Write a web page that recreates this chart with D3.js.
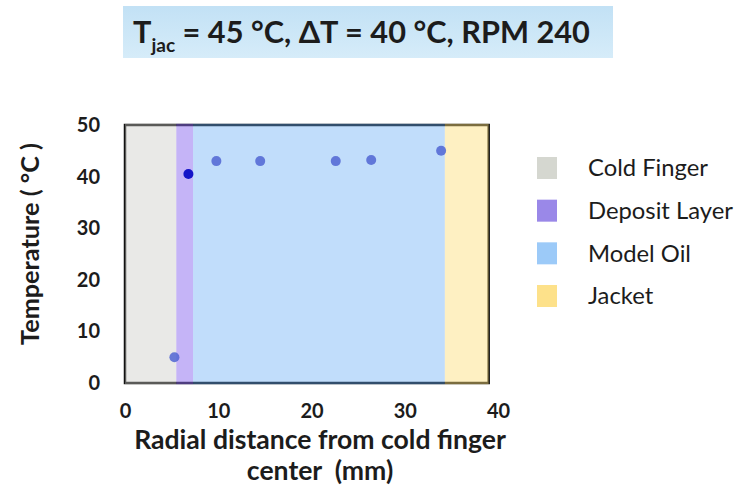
<!DOCTYPE html>
<html>
<head>
<meta charset="utf-8">
<script src="https://cdn.jsdelivr.net/npm/d3@7"></script>
<style>
  body { margin: 0; background: #fff; }
  text { font-family: Lato, "Open Sans", sans-serif; fill: #1c1c1c; }
</style>
</head>
<body>
<svg id="chart"></svg>
<script>
// data
const xTicks = [0, 10, 20, 30, 40];
const yTicks = [0, 10, 20, 30, 40, 50];
const radius = [5.3, 6.8, 9.8, 14.5, 22.6, 26.4, 33.9];        // mm
const temperature = [5.0, 40.5, 43.0, 43.0, 43.0, 43.2, 45.0]; // °C
const zoneNames = ["Cold Finger", "Deposit Layer", "Model Oil", "Jacket"];
const zoneStart = [0, 5.5, 7.3, 34.3];
const zoneEnd = [5.5, 7.3, 34.3, 39];

const W = 738, H = 488;
const svg = d3.select("#chart").attr("width", W).attr("height", H);

const x = d3.scaleLinear().domain([0, 40]).range([125, 498]);
const y = d3.scaleLinear().domain([0, 50]).range([383, 125]);

// scale a text's font so that it spans a given width
function fit(sel, w) {
    const len = sel.node().getComputedTextLength();
    const fs = parseFloat(sel.attr("font-size"));
    sel.attr("font-size", fs * w / len);
    return fs * w / len;
}

// title box
const grad = svg.append("defs").append("linearGradient")
    .attr("id", "tg").attr("x1", 0).attr("y1", 0).attr("x2", 0).attr("y2", 1);
grad.append("stop").attr("offset", "0%").attr("stop-color", "#c2e1f5");
grad.append("stop").attr("offset", "100%").attr("stop-color", "#d6ecf9");
svg.append("rect")
    .attr("x", 123).attr("y", 6).attr("width", 490).attr("height", 52)
    .attr("fill", "url(#tg)");
const title = svg.append("text")
    .attr("x", 133).attr("y", 43)
    .attr("font-size", 28).attr("font-weight", 700);
title.append("tspan").text("T");
title.append("tspan").attr("font-size", "0.62em").attr("dy", "0.45em").text("jac");
title.append("tspan").attr("dy", "-0.28em").text(" = 45 °C, ΔT = 40 °C, RPM 240");
fit(title, 457);

// plot frame
svg.append("rect")
    .attr("x", x(0)).attr("y", y(50))
    .attr("width", x(39) - x(0)).attr("height", y(0) - y(50))
    .attr("fill", "#fff").attr("stroke", "#111").attr("stroke-width", 2.5);

// zones
const zoneFill = ["rgba(200,200,196,0.4)", "rgba(140,105,240,0.5)", "rgba(100,170,245,0.4)", "rgba(252,222,120,0.45)"];
svg.selectAll(".zone")
    .data(zoneNames)
    .enter()
    .append("rect")
    .attr("class", "zone")
    .attr("x", (d, i) => x(zoneStart[i]))
    .attr("width", (d, i) => x(zoneEnd[i]) - x(zoneStart[i]))
    .attr("y", y(50) - 1.25)
    .attr("height", y(0) - y(50) + 2.5)
    .attr("fill", (d, i) => zoneFill[i]);

// axes
const xAxis = svg.append("g")
    .attr("transform", "translate(0," + y(0) + ")")
    .call(d3.axisBottom(x).tickValues(xTicks).tickSize(0).tickPadding(21));
xAxis.select(".domain").remove();
xAxis.selectAll("text")
    .attr("font-size", 20).attr("font-weight", 700)
    .attr("font-family", "Lato, sans-serif").attr("fill", "#1c1c1c");

const yAxis = svg.append("g")
    .attr("transform", "translate(" + x(0) + ",0)")
    .call(d3.axisLeft(y).tickValues(yTicks).tickSize(0).tickPadding(25));
yAxis.select(".domain").remove();
yAxis.selectAll("text")
    .attr("font-size", 20).attr("font-weight", 700)
    .attr("font-family", "Lato, sans-serif").attr("fill", "#1c1c1c");

// points
svg.selectAll(".pt")
    .data(radius)
    .enter()
    .append("circle")
    .attr("class", "pt")
    .attr("cx", d => x(d))
    .attr("cy", (d, i) => y(temperature[i]))
    .attr("r", 5)
    .attr("fill", (d, i) => i === 1 ? "#1414c8" : "#5065d2")
    .attr("fill-opacity", (d, i) => i === 1 ? 1 : 0.85);

// axis titles
const yt = svg.append("text")
    .attr("transform", "translate(39,244) rotate(-90)")
    .attr("text-anchor", "middle")
    .attr("font-size", 20).attr("font-weight", 700)
    .text("Temperature ( °C )");
fit(yt, 202);

const xt1 = svg.append("text")
    .attr("x", 320).attr("y", 449)
    .attr("text-anchor", "middle")
    .attr("font-size", 22).attr("font-weight", 700)
    .text("Radial distance from cold finger");
const xfs = fit(xt1, 372);
svg.append("text")
    .attr("x", 320).attr("y", 480)
    .attr("text-anchor", "middle")
    .attr("font-size", xfs).attr("font-weight", 700)
    .attr("xml:space", "preserve")
    .text("center  (mm)");

// legend
const swatch = ["#d5d7d0", "#9a88e8", "#9ccaf8", "#fde18a"];
const ly = d3.scalePoint().domain(zoneNames).range([168, 296]);
const leg = svg.selectAll(".leg")
    .data(zoneNames)
    .enter()
    .append("g")
    .attr("class", "leg")
    .attr("transform", d => "translate(537," + ly(d) + ")");
leg.append("rect")
    .attr("x", 0).attr("y", -11)
    .attr("width", 20).attr("height", 22)
    .attr("fill", (d, i) => swatch[i]);
const labels = leg.append("text")
    .attr("x", 51).attr("dy", "0.35em")
    .attr("font-size", 18)
    .attr("fill", "#333")
    .text(d => d);
const lfs = fit(d3.select(labels.nodes()[1]), 145);
labels.attr("font-size", lfs);
</script>
</body>
</html>
